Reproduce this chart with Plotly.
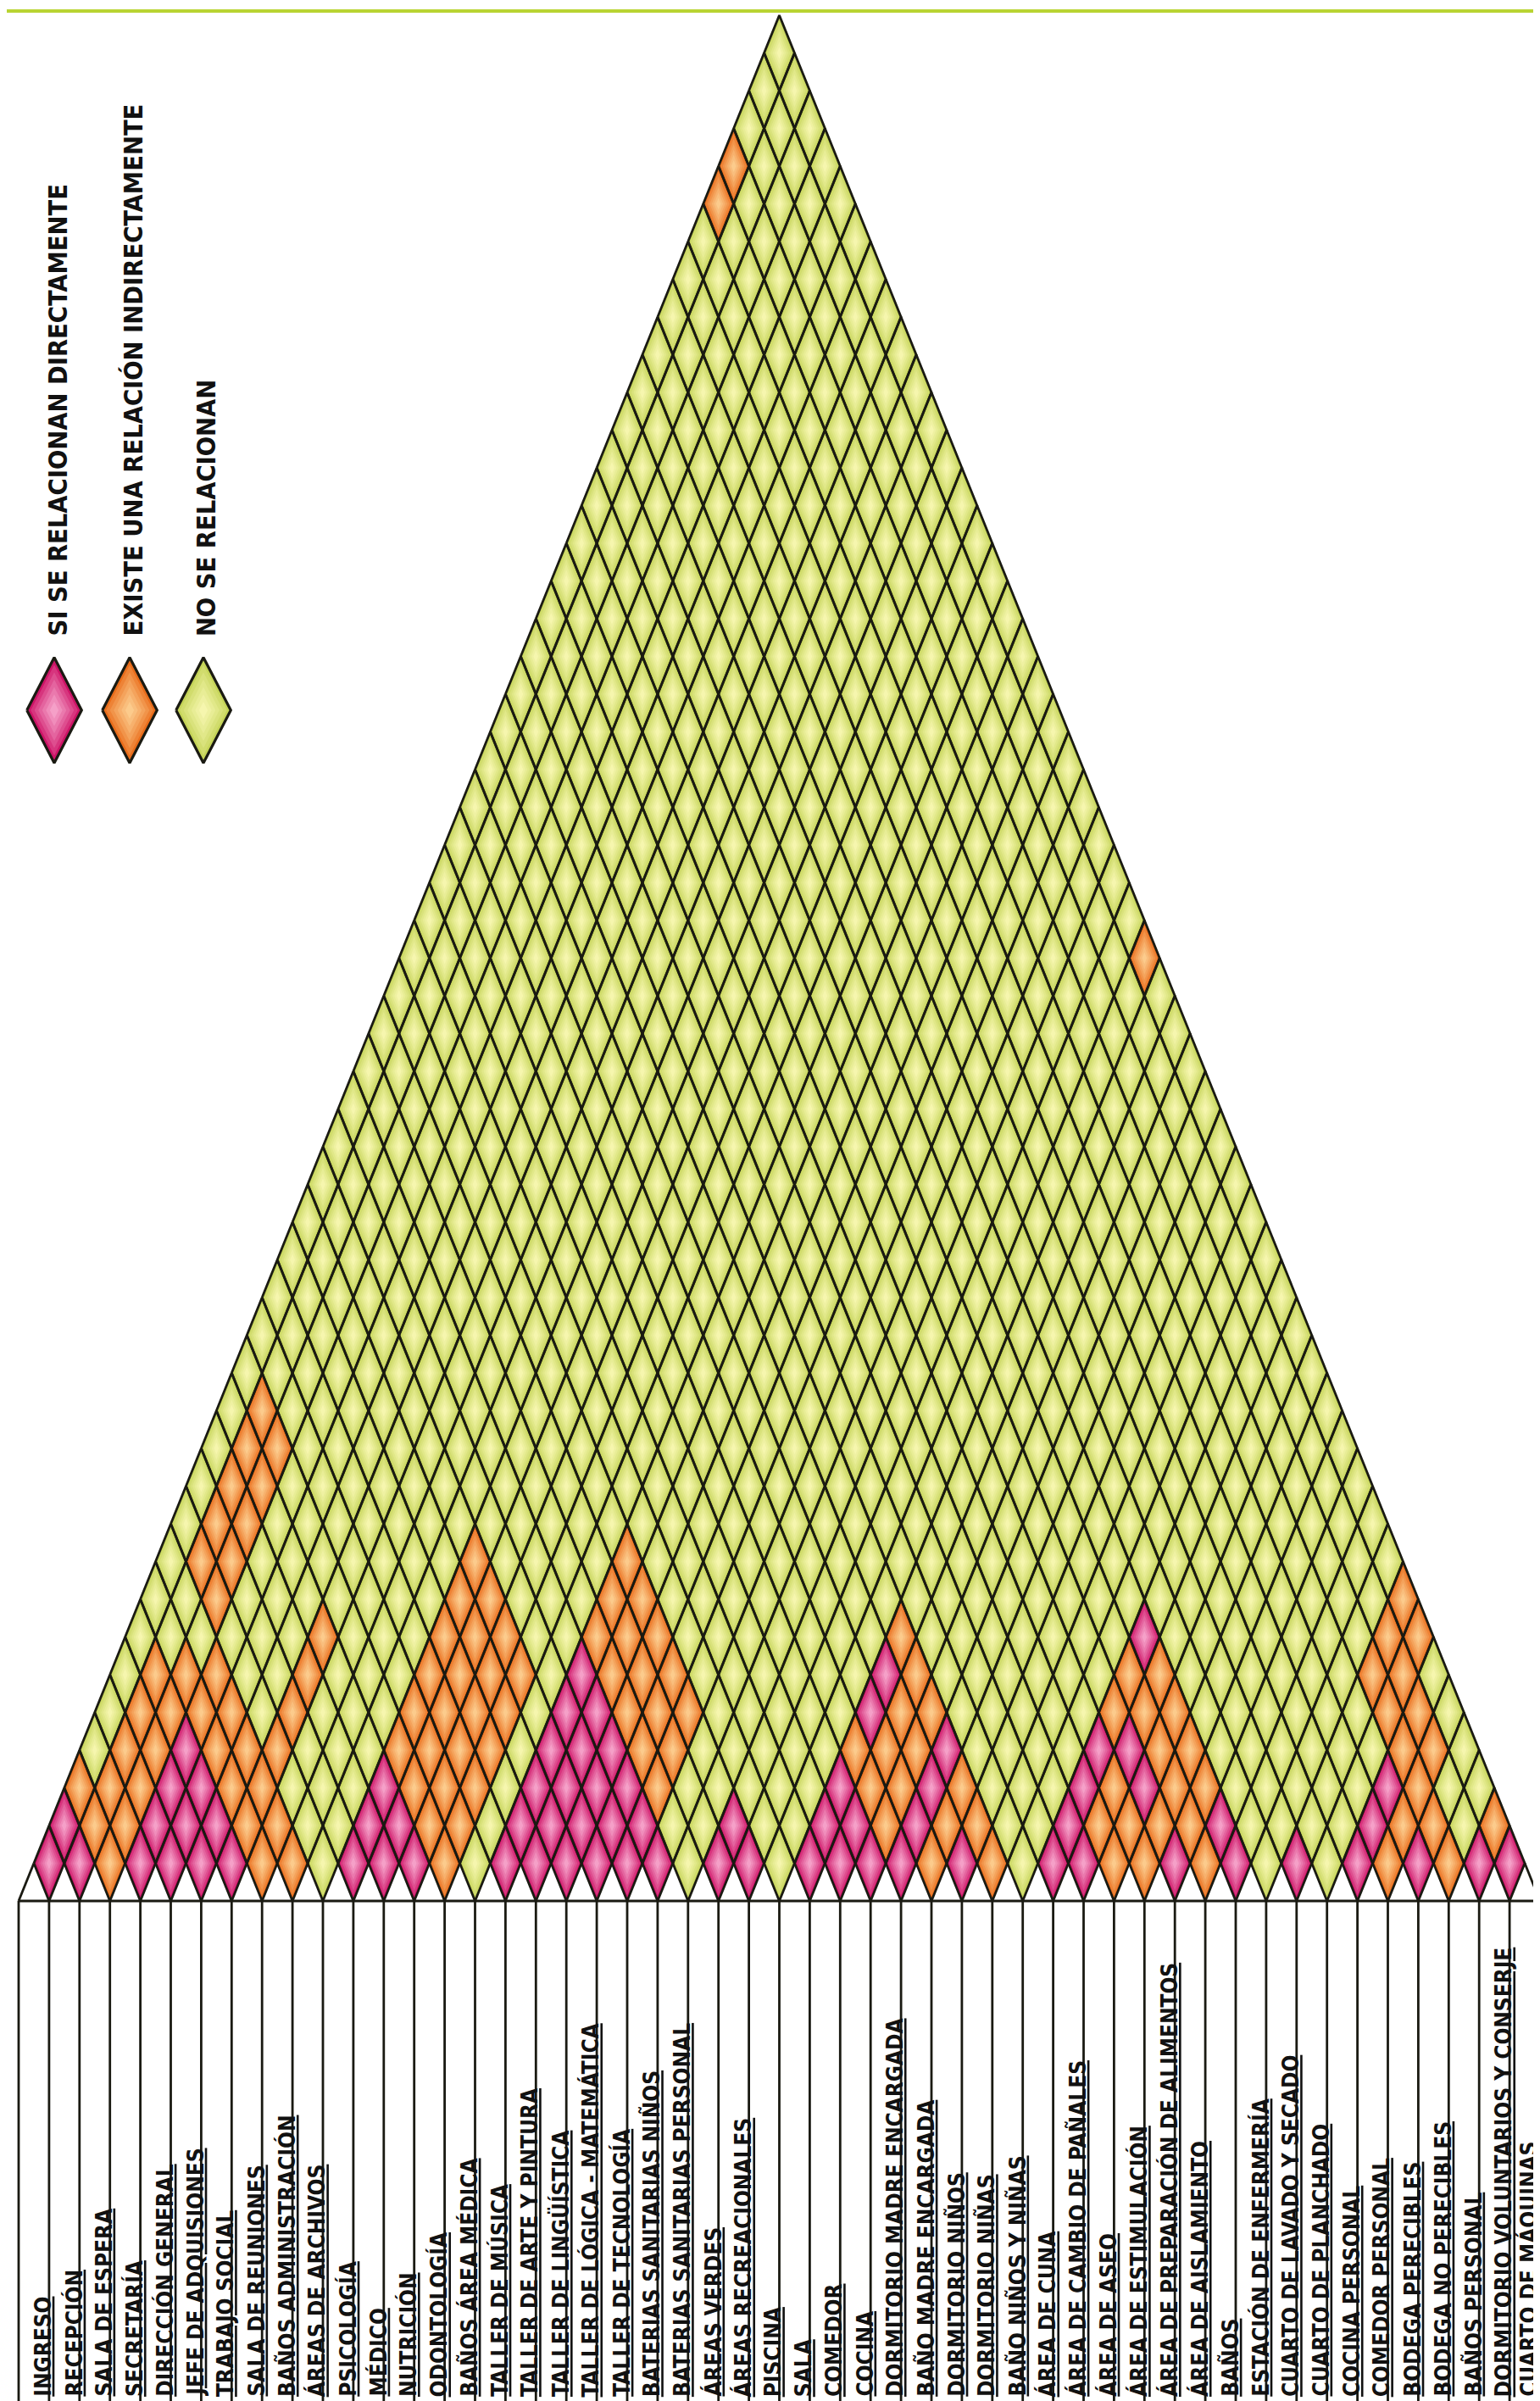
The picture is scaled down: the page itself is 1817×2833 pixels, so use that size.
import plotly.graph_objects as go

# ---------------- DATA ----------------
labels = [
    "INGRESO", "RECEPCIÓN", "SALA DE ESPERA", "SECRETARÍA", "DIRECCIÓN GENERAL",
    "JEFE DE ADQUISIONES", "TRABAJO SOCIAL", "SALA DE REUNIONES", "BAÑOS ADMINISTRACIÓN",
    "ÁREAS DE ARCHIVOS", "PSICOLOGÍA", "MÉDICO", "NUTRICIÓN", "ODONTOLOGÍA",
    "BAÑOS ÁREA MÉDICA", "TALLER DE MÚSICA", "TALLER DE ARTE Y PINTURA",
    "TALLER DE LINGÜÍSTICA", "TALLER DE LÓGICA - MATEMÁTICA", "TALLER DE TECNOLOGÍA",
    "BATERIAS SANITARIAS NIÑOS", "BATERIAS SANITARIAS PERSONAL", "ÁREAS VERDES",
    "ÁREAS RECREACIONALES", "PISCINA", "SALA", "COMEDOR", "COCINA",
    "DORMITORIO MADRE ENCARGADA", "BAÑO MADRE ENCARGADA", "DORMITORIO NIÑOS",
    "DORMITORIO NIÑAS", "BAÑO NIÑOS Y NIÑAS", "ÁREA DE CUNA", "ÁREA DE CAMBIO DE PAÑALES",
    "ÁREA DE ASEO", "ÁREA DE ESTIMULACIÓN", "ÁREA DE PREPARACIÓN DE ALIMENTOS",
    "ÁREA DE AISLAMIENTO", "BAÑOS", "ESTACIÓN DE ENFERMERÍA", "CUARTO DE LAVADO Y SECADO",
    "CUARTO DE PLANCHADO", "COCINA PERSONAL", "COMEDOR PERSONAL", "BODEGA PERECIBLES",
    "BODEGA NO PERECIBLES", "BAÑOS PERSONAL", "DORMITORIO VOLUNTARIOS Y CONSERJE",
    "CUARTO DE MÁQUINAS",
]

# pairs (index a, index b) that relate directly (pink)
direct_admin = [(0, 1), (0, 2), (1, 2), (3, 4), (3, 5), (3, 6), (3, 7), (4, 5), (4, 6),
                (4, 7), (5, 6), (5, 7), (6, 7)]
direct_medical = [(10, 11), (10, 12), (10, 13), (11, 12), (11, 13), (12, 13)]
direct_workshops = [(15, 16), (15, 17), (15, 18), (15, 19), (15, 20), (15, 21),
                    (16, 17), (16, 18), (16, 19), (16, 20), (16, 21),
                    (17, 18), (17, 19), (17, 20), (17, 21),
                    (18, 19), (18, 20), (18, 21), (19, 20), (19, 21), (20, 21)]
direct_outdoor = [(22, 23), (22, 24), (23, 24)]
direct_living = [(25, 26), (25, 27), (25, 28), (25, 30), (25, 31), (26, 27), (26, 28),
                 (27, 28), (28, 29), (28, 30), (28, 31), (28, 32), (30, 31)]
direct_infants = [(33, 34), (33, 35), (33, 36), (33, 37), (33, 40), (34, 35), (34, 38),
                  (35, 38), (37, 38), (38, 40), (39, 40)]
direct_service = [(41, 42), (43, 44), (43, 45), (43, 46), (45, 46), (47, 48), (48, 49)]

# pairs with an indirect relation (orange)
indirect_admin = [(0, 3), (1, 3), (1, 4), (1, 5), (1, 6), (1, 7), (2, 3), (2, 4), (2, 5),
                  (2, 6), (2, 7), (2, 8), (3, 8), (3, 9), (4, 8), (4, 9), (5, 8), (5, 9),
                  (6, 8), (6, 9), (7, 8), (7, 9), (8, 9), (6, 10), (6, 11), (6, 12), (6, 13),
                  (1, 10), (1, 11), (1, 12), (1, 13), (1, 14),
                  (2, 10), (2, 11), (2, 12), (2, 13), (2, 14), (0, 45), (0, 46)]
indirect_medical = [(10, 14), (10, 15), (10, 16), (10, 17), (10, 18), (10, 19),
                    (11, 14), (11, 15), (11, 16), (11, 17), (11, 18), (11, 19),
                    (12, 14), (12, 15), (12, 16), (12, 17), (12, 18), (12, 19),
                    (13, 14), (13, 15), (13, 16), (13, 17), (13, 18), (13, 19)]
indirect_workshops = [(15, 22), (15, 23), (15, 24), (16, 22), (16, 23), (16, 24),
                      (17, 22), (17, 23), (17, 24), (18, 22), (18, 23), (18, 24),
                      (19, 22), (19, 23), (19, 24), (24, 49)]
indirect_living = [(25, 29), (25, 32), (26, 29), (26, 30), (26, 31), (26, 32), (27, 29),
                   (27, 30), (27, 31), (27, 32), (29, 30), (29, 31), (29, 32), (30, 32),
                   (31, 32)]
indirect_infants = [(33, 38), (33, 39), (34, 36), (34, 37), (34, 39), (34, 40), (35, 36),
                    (35, 37), (35, 39), (35, 40), (36, 37), (36, 38), (36, 39), (36, 40),
                    (37, 39), (37, 40), (38, 39)]
indirect_service = [(41, 47), (41, 48), (41, 49), (42, 47), (42, 48), (42, 49), (43, 47),
                    (43, 48), (44, 45), (44, 46), (44, 47), (44, 48), (45, 47), (46, 47),
                    (47, 49)]

legend_labels = ["SI SE RELACIONAN DIRECTAMENTE", "EXISTE UNA RELACIÓN INDIRECTAMENTE",
                 "NO SE RELACIONAN"]

# ---------------- STYLE ----------------
PX_COL = 35.9        # pixel width of one label column
PX_ROW = 44.5        # pixel height of a half diamond
X0_PX = 14           # left edge of first column
BASE_PX = 2235       # base line of the triangle
W, H = 1817, 2833

# edge colour -> centre colour of the shaded diamonds
SHADES = {
    2: ("#CD1467", "#F5A0C8"),   # direct
    1: ("#E96D1B", "#FCCB8C"),   # indirect
    0: ("#C5D458", "#F6F6AE"),   # none
}
LAYER_SCALE = [1.0, 0.86, 0.72, 0.58, 0.44, 0.30, 0.16]
FONT = "Liberation Sans Narrow, Arial Narrow, DejaVu Sans Condensed, sans-serif"
LINE_COL = "#1a1a12"


def mix(c1, c2, t):
    a = [int(c1[k:k + 2], 16) for k in (1, 3, 5)]
    b = [int(c2[k:k + 2], 16) for k in (1, 3, 5)]
    return "#" + "".join("%02x" % round(a[n] + (b[n] - a[n]) * t) for n in range(3))


def layer_colors(v):
    e, c = SHADES[v]
    n = len(LAYER_SCALE)
    return [mix(e, c, (k / (n - 1)) ** 0.8) for k in range(n)]


N = len(labels)
status = {}
for lst, v in [(direct_admin, 2), (direct_medical, 2), (direct_workshops, 2),
               (direct_outdoor, 2), (direct_living, 2), (direct_infants, 2),
               (direct_service, 2), (indirect_admin, 1), (indirect_medical, 1),
               (indirect_workshops, 1), (indirect_living, 1), (indirect_infants, 1),
               (indirect_service, 1)]:
    for a, b in lst:
        status[(min(a, b), max(a, b))] = v


def diamond(cx, cy, hw, hh):
    return [cx - hw, cx, cx + hw, cx, cx - hw, None], [cy, cy + hh, cy, cy - hh, cy, None]


fig = go.Figure()

cells = {0: [], 1: [], 2: []}
for i in range(N):
    for j in range(i + 1, N):
        cells[status.get((i, j), 0)].append(((i + j) / 2.0, float(j - i)))

for v in [0, 1, 2]:
    cols = layer_colors(v)
    for li, sc in enumerate(LAYER_SCALE):
        xs, ys = [], []
        for cx, cy in cells[v]:
            dx, dy = diamond(cx, cy, 0.5 * sc, 1.0 * sc)
            xs += dx
            ys += dy
        fig.add_trace(go.Scatter(
            x=xs, y=ys, mode="lines", fill="toself", fillcolor=cols[li],
            line=dict(color=cols[li], width=0),
            hoverinfo="skip", showlegend=False))

# lattice outlines drawn on top of all fills
ox, oy = [], []
for v in [0, 1, 2]:
    for cx, cy in cells[v]:
        dx, dy = diamond(cx, cy, 0.5, 1.0)
        ox += dx
        oy += dy
fig.add_trace(go.Scatter(x=ox, y=oy, mode="lines", line=dict(color=LINE_COL, width=2.8),
                         hoverinfo="skip", showlegend=False))

# label boxes
y_bot = -(H - BASE_PX) / PX_ROW
bx, by = [], []
for k in range(N + 1):
    bx += [k - 0.5, k - 0.5, None]
    by += [0, y_bot, None]
bx += [-0.5, N - 0.5, None, -0.5, 0, None, N - 0.5, N - 1, None]
by += [0, 0, None, 0, 1, None, 0, 1, None]
fig.add_trace(go.Scatter(x=bx, y=by, mode="lines", line=dict(color=LINE_COL, width=2.8),
                         hoverinfo="skip", showlegend=False))

label_y = -(2822 - BASE_PX) / PX_ROW
for k, lab in enumerate(labels):
    fig.add_annotation(x=min(k + 0.3, N - 1 + 0.12), y=label_y, text=lab, textangle=-90,
                       showarrow=False, xanchor="center", yanchor="bottom",
                       font=dict(family=FONT, size=26, color="#111111", weight="bold",
                                 lineposition="under"))

# legend glyphs
leg_cx_px = [56, 145, 232]
leg_cy = (BASE_PX - 830) / PX_ROW
for li, v in enumerate([2, 1, 0]):
    cx = (leg_cx_px[li] - X0_PX) / PX_COL - 0.5
    cols = layer_colors(v)
    for si, sc in enumerate(LAYER_SCALE):
        dx, dy = diamond(cx, leg_cy, 0.9 * sc, 1.4 * sc)
        fig.add_trace(go.Scatter(
            x=dx, y=dy, mode="lines", fill="toself", fillcolor=cols[si],
            line=dict(color=cols[si], width=0),
            hoverinfo="skip", showlegend=False))
    dx, dy = diamond(cx, leg_cy, 0.9, 1.4)
    fig.add_trace(go.Scatter(x=dx, y=dy, mode="lines", line=dict(color=LINE_COL, width=3.2),
                             hoverinfo="skip", showlegend=False))
    fig.add_annotation(x=cx + 0.1, y=(BASE_PX - 745) / PX_ROW, text=legend_labels[li],
                       textangle=-90, showarrow=False, xanchor="center", yanchor="bottom",
                       font=dict(family=FONT, size=30.5, color="#111111", weight="bold"))

# orange heading, mostly cut off at the left edge as in the source
fig.add_annotation(xref="paper", yref="paper", x=7 / W, y=1 - 2535 / H, text="MATRIZ",
                   textangle=-90, showarrow=False, xanchor="right", yanchor="bottom",
                   font=dict(family=FONT, size=30, color="#F39323", weight="bold"))

# green rule at the top
fig.add_shape(type="line", xref="paper", yref="paper", x0=0, x1=1, y0=1 - 5 / H,
              y1=1 - 5 / H, line=dict(color="#B9D432", width=4))

x_min = -0.5 - X0_PX / PX_COL
x_max = x_min + W / PX_COL
y_max = BASE_PX / PX_ROW
y_min = y_max - H / PX_ROW
fig.update_layout(
    width=W, height=H, margin=dict(l=0, r=0, t=0, b=0),
    paper_bgcolor="white", plot_bgcolor="white", showlegend=False,
    xaxis=dict(range=[x_min, x_max], visible=False, fixedrange=True),
    yaxis=dict(range=[y_min, y_max], visible=False, fixedrange=True),
)
fig.write_html("out.html")
